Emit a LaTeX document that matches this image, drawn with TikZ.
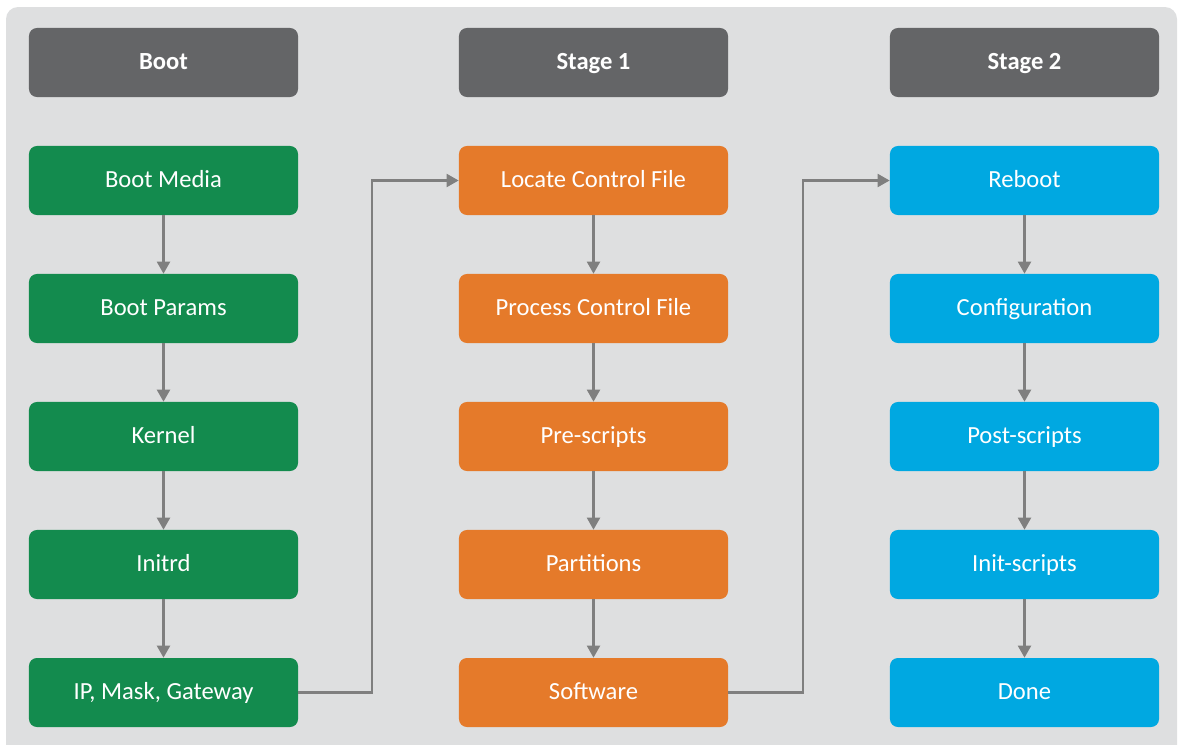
\documentclass[tikz,border=0pt]{standalone}
\usepackage{fontspec}
\setmainfont{Carlito}
\usepackage{tikz}
\usetikzlibrary{positioning, arrows.meta}

\definecolor{bgcol}{HTML}{DEDFE0}
\definecolor{headcol}{HTML}{646567}
\definecolor{bootcol}{HTML}{138B4E}
\definecolor{stagecol}{HTML}{E57A2A}
\definecolor{finalcol}{HTML}{00A8E1}
\definecolor{linecol}{HTML}{7F7F7F}

\begin{document}
\begin{tikzpicture}[x=0.025cm, y=-0.025cm,
  box/.style={rounded corners=0.2cm, minimum width=6.725cm, minimum height=1.725cm,
    text=white, font=\fontsize{17.5}{20}\selectfont, inner sep=0pt,
    text height=1.05em, text depth=0.06em},
  head/.style={box, fill=headcol, font=\fontsize{17.5}{20}\selectfont\bfseries},
  flow/.style={draw=linecol, line width=1.8pt,
    -{Triangle[length=0.3cm, width=0.32cm]}}]
\useasboundingbox (0,0) rectangle (1178,744);
\fill[bgcol, rounded corners=0.3cm] (6,7) rectangle (1177,770);

% headers
\node[head] (H1) at (163.5,62.5) {Boot};
\node[head] (H2) at (593.5,62.5) {Stage 1};
\node[head] (H3) at (1024.5,62.5) {Stage 2};

% boot
\node[box, fill=bootcol] (B1) at (163.5,180.5) {Boot Media};
\node[box, fill=bootcol] (B2) at (163.5,308.5) {Boot Params};
\node[box, fill=bootcol] (B3) at (163.5,436.5) {Kernel};
\node[box, fill=bootcol] (B4) at (163.5,564.5) {Initrd};
\node[box, fill=bootcol] (B5) at (163.5,692.5) {IP, Mask, Gateway};

% stage 1
\node[box, fill=stagecol] (S1) at (593.5,180.5) {Locate Control File};
\node[box, fill=stagecol] (S2) at (593.5,308.5) {Process Control File};
\node[box, fill=stagecol] (S3) at (593.5,436.5) {Pre-scripts};
\node[box, fill=stagecol] (S4) at (593.5,564.5) {Partitions};
\node[box, fill=stagecol] (S5) at (593.5,692.5) {Software};

% stage 2
\node[box, fill=finalcol] (T1) at (1024.5,180.5) {Reboot};
\node[box, fill=finalcol] (T2) at (1024.5,308.5) {Configuration};
\node[box, fill=finalcol] (T3) at (1024.5,436.5) {Post-scripts};
\node[box, fill=finalcol] (T4) at (1024.5,564.5) {Init-scripts};
\node[box, fill=finalcol] (T5) at (1024.5,692.5) {Done};

\foreach \c in {B,S,T}{
  \draw[flow] (\c1) -- (\c2);
  \draw[flow] (\c2) -- (\c3);
  \draw[flow] (\c3) -- (\c4);
  \draw[flow] (\c4) -- (\c5);
}

\coordinate (J1) at (372,0);
\coordinate (J2) at (803,0);
\draw[flow] (B5.east) -| (J1 |- S1.west) -- (S1.west);
\draw[flow] (S5.east) -| (J2 |- T1.west) -- (T1.west);
\end{tikzpicture}
\end{document}
